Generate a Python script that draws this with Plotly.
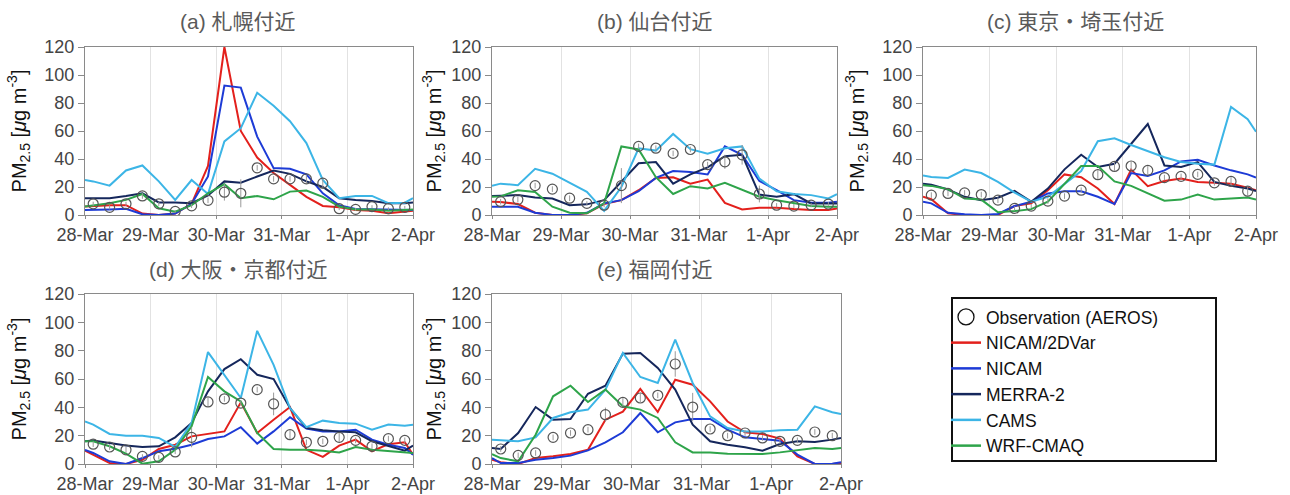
import plotly.graph_objects as go

# ---- time axes (hours since 28-Mar 00 UTC) ----
model_hours = [0, 3, 9, 15, 21, 27, 33, 39, 45, 51, 57, 63, 69, 75, 81, 87, 93, 99, 105, 111, 117, 120]
obs_hours = [3, 9, 15, 21, 27, 33, 39, 45, 51, 57, 63, 69, 75, 81, 87, 93, 99, 105, 111, 117]
tick_hours = [0, 24, 48, 72, 96, 120]
tick_labels = ["28-Mar", "29-Mar", "30-Mar", "31-Mar", "1-Apr", "2-Apr"]

panel_titles = ["(a) 札幌付近", "(b) 仙台付近", "(c) 東京・埼玉付近", "(d) 大阪・京都付近", "(e) 福岡付近"]

series_names = ["NICAM/2DVar", "NICAM", "MERRA-2", "CAMS", "WRF-CMAQ"]
series_colors = ["#e3201c", "#1d3bd6", "#15275c", "#3cb5e6", "#2ea44a"]

# ---- (a) Sapporo ----
obs_a = [8, 5.5, 8, 13.6, 8, 2.6, 6.5, 10.5, 16.3, 15.5, 33.7, 25.8, 25.8, 25.8, 22.7, 4.5, 4, 6, 4.5, 5.5]
err_a = [1.5, 1.5, 1.5, 2, 1.5, 1, 1.5, 2, 6, 10, 2, 2, 2, 3, 4, 1, 1, 1, 1, 1]
nicam2dvar_a = [6, 6.5, 7, 7, 1, 0, 1, 8, 35, 120, 60, 41, 30, 21.5, 13, 6.5, 5.5, 3.6, 3, 1.2, 2.4, 3]
nicam_a = [3.6, 3.6, 4, 4.5, 0.5, 0, 1, 8, 27.5, 92.5, 91, 56, 33.5, 33, 29, 15.5, 7, 4.3, 4, 4, 3.6, 3.6]
merra2_a = [12, 12, 12, 13.6, 15.5, 9, 9, 8.4, 14, 24, 23, 27.5, 31.8, 29.4, 24, 20, 12, 10.8, 10, 8.4, 8.4, 9]
cams_a = [25, 24, 21, 31.8, 35.4, 24, 10.8, 25, 15, 52.6, 62, 87.3, 78, 67, 51.4, 25, 12, 13.6, 13.6, 8.4, 8.8, 12]
wrf_a = [6, 6.7, 8.4, 10.8, 15, 4.8, 2.4, 7, 15.5, 22, 12, 13.6, 11.2, 16.7, 17.5, 13, 6, 4, 4, 3, 3.6, 4]

# ---- (b) Sendai ----
obs_b = [9.5, 11, 21, 18.5, 12, 8.3, 7, 21, 49, 47.7, 44, 46.8, 36, 38, 43, 15, 7, 6.4, 7, 7.8]
err_b = [2, 2, 2, 2, 2, 1.5, 1.5, 12.5, 2, 2, 2, 2, 2, 5, 7, 6, 1.5, 1.5, 1.5, 1.5]
nicam2dvar_b = [9.5, 9.3, 7.8, 1.6, 0, 0, 1.2, 7.8, 10.6, 17.7, 26.5, 27, 22.4, 25.3, 8.7, 4, 5.2, 5.2, 4.2, 3.5, 3.5, 4.7]
nicam_b = [5.9, 5.9, 5.9, 1.6, 0, 0, 1.6, 8.3, 10.6, 17, 26.5, 31.4, 30.7, 29, 49, 43, 24.3, 17.7, 10.6, 8.7, 8.7, 9.5]
merra2_b = [13.5, 13.7, 14.2, 12.5, 11.8, 7, 7.6, 10.6, 24, 37, 37.8, 22.4, 29, 34, 42, 43, 14.6, 13, 14.9, 8.3, 8.3, 8.3]
cams_b = [20.8, 22.4, 21.3, 33, 29.5, 23, 16.5, 3, 20, 47.7, 46, 57.9, 47, 43.7, 47.7, 49, 26, 17, 15, 14.2, 11.8, 14.9]
wrf_b = [13, 13.3, 17.7, 16.5, 5.9, 1.6, 1.2, 8.3, 49, 46.8, 27, 15, 20.6, 18.9, 23, 18.2, 13, 10.6, 8.3, 6.4, 5.9, 5.9]

# ---- (c) Tokyo / Saitama ----
obs_c = [14.2, 15.4, 15.8, 14.6, 10.6, 4.7, 6.4, 9.9, 13.5, 17.7, 28.8, 34.7, 35, 31.9, 26.7, 27.6, 29, 23, 24, 17]
err_c = [2, 2, 2, 2, 2, 1.5, 1.5, 2, 2, 2, 3, 3, 3, 3, 2, 2, 2, 2, 3, 3]
nicam2dvar_c = [13, 11.3, 1.2, 0, 0, 0, 6.4, 8.3, 17.7, 29, 27, 18.9, 7.8, 32.4, 20.6, 24.3, 26, 23.6, 23, 22.4, 19.4, 17.7]
nicam_c = [9.5, 8.3, 1.6, 0.5, 0, 0.7, 6.4, 9.5, 15.4, 17, 17, 13, 7.8, 30, 27.9, 31.9, 38.3, 39.5, 35.4, 31.9, 29, 26.7]
merra2_c = [22.4, 21.7, 18.2, 13, 10.6, 12.3, 17.2, 9.5, 18.9, 32.6, 43, 34.3, 36.6, 50.8, 65, 35.4, 34.3, 37.8, 23.6, 20.8, 18.9, 17.2]
cams_c = [28.3, 27.2, 26.5, 32.4, 30, 23.6, 16, 9.5, 13, 22.4, 31.4, 52.7, 54.8, 50, 45.4, 41.3, 37.8, 36.6, 36, 77.2, 68.5, 59.5]
wrf_c = [21.3, 20.8, 18.4, 11.8, 11, 1.9, 2.8, 4.2, 9.5, 22.4, 35, 35, 24, 20.8, 15.4, 10.2, 11, 14.6, 11, 11.8, 12.5, 11]

# ---- (d) Osaka / Kyoto ----
obs_d = [14, 12, 10, 5.4, 4.7, 8.5, 18.8, 43.8, 46, 43, 52.5, 42.4, 20.7, 15.3, 16, 18.8, 16.7, 12.5, 17.9, 16.7]
err_d = [2, 2, 2, 1.5, 1.5, 1.5, 7, 3, 2, 2, 2, 8, 3, 2, 2, 3, 2, 2, 2, 2]
nicam2dvar_d = [9.4, 6.6, 0.7, 0, 3, 10.6, 13.6, 19.5, 21.2, 23, 43.5, 21.9, 31.3, 40.2, 10, 5, 13, 17.2, 9, 14, 15.3, 6.6]
nicam_d = [10, 7.8, 1.9, 0, 4.2, 9, 10.8, 13.6, 17.6, 19.5, 26, 14.4, 23, 33, 25, 23, 23, 24.2, 17.2, 13.6, 11.3, 6.6]
merra2_d = [16, 16.5, 14.8, 13, 12, 12.5, 18.8, 29, 51.3, 67, 74, 63, 60, 39.5, 25.4, 23.8, 23, 22.4, 16, 12.5, 9.4, 13]
cams_d = [30, 27.8, 21.2, 20, 20, 18.4, 12, 29, 79, 63, 46.6, 94, 70, 39.5, 26, 30.6, 29, 28.5, 24.2, 27.8, 27, 27.8]
wrf_d = [16, 16, 12.5, 7.3, 0.2, 1.9, 10, 26.6, 61.4, 51.3, 44.2, 21.9, 10.6, 10, 10, 9.4, 8.2, 12, 10, 9, 8.2, 7.8]

# ---- (e) Fukuoka ----
obs_e = [10.6, 6.1, 7.8, 18.8, 21.9, 24.2, 34.8, 43.5, 46.6, 48.5, 70.6, 40.2, 24.7, 20, 21.9, 18.4, 16, 16.7, 22.6, 20]
err_e = [2, 2, 2, 2, 2, 2, 5, 3, 3, 2, 9, 10, 2, 2, 2, 2, 2, 2, 2, 2]
nicam2dvar_e = [3, 1.2, 0, 4.2, 5.4, 7, 10, 31.3, 37, 53, 36.7, 59.5, 56, 44.2, 30, 22.4, 21.2, 17.9, 5.4, 0, 0, 0.7]
nicam_e = [4.2, 0.7, 0.7, 3, 4.2, 5.9, 9.6, 15.3, 22.4, 36, 22.4, 29.4, 31.8, 31.8, 24.2, 18.8, 17.6, 16.5, 6.6, 0, 0.2, 1.2]
merra2_e = [11.3, 10.6, 21.9, 40.2, 31.3, 31.8, 49.6, 55.3, 77.9, 78.4, 67.8, 52.5, 27.8, 16, 13.6, 11.8, 9.4, 14.1, 16, 15.5, 17.2, 18.4]
cams_e = [17.2, 16.7, 16, 18.8, 32.5, 36.5, 38.4, 52.5, 78.4, 61.4, 57.2, 87.8, 57.2, 33.6, 25.4, 23, 23, 23.8, 24.2, 40.7, 36.5, 35.3]
wrf_e = [7, 4.2, 1.9, 20.7, 47.8, 55.3, 43.8, 52.5, 40.7, 38.4, 32.5, 15.3, 8.2, 8.2, 7.3, 7, 7, 8.2, 10, 11.3, 10.6, 11.3]

panels = [
    (obs_a, err_a, [nicam2dvar_a, nicam_a, merra2_a, cams_a, wrf_a]),
    (obs_b, err_b, [nicam2dvar_b, nicam_b, merra2_b, cams_b, wrf_b]),
    (obs_c, err_c, [nicam2dvar_c, nicam_c, merra2_c, cams_c, wrf_c]),
    (obs_d, err_d, [nicam2dvar_d, nicam_d, merra2_d, cams_d, wrf_d]),
    (obs_e, err_e, [nicam2dvar_e, nicam_e, merra2_e, cams_e, wrf_e]),
]

W, H = 1290, 495
# plot-area boxes in pixels: (left, right, top, bottom)
boxes = [(85, 413, 47, 215), (492, 837, 47, 215), (923, 1256, 47, 215),
         (85, 413, 294, 464), (492, 841, 294, 464)]
title_x = [238, 655, 1075, 238, 655]
title_y = [22, 22, 22, 269, 269]
ytitle_standoff = [12, 4, 12, 12, 4]
legend_box = (952, 1216, 298, 461)

FONT = "Liberation Sans, Arial, Helvetica, sans-serif"
CJK = "Liberation Sans, Noto Sans CJK JP, sans-serif"

fig = go.Figure()
layout = {}
annotations = []
for i, (obs, err, models) in enumerate(panels):
    n = i + 1
    xa = "x" if n == 1 else f"x{n}"
    ya = "y" if n == 1 else f"y{n}"
    for name, color, vals in zip(series_names, series_colors, models):
        fig.add_trace(go.Scatter(x=model_hours, y=vals, mode="lines", name=name,
                                 line=dict(color=color, width=2),
                                 xaxis=xa, yaxis=ya, showlegend=False, hoverinfo="skip"))
    fig.add_trace(go.Scatter(x=obs_hours, y=obs, mode="markers", name="Observation (AEROS)",
                             marker=dict(symbol="circle-open", size=10, color="#555555",
                                         line=dict(width=1.2, color="#555555")),
                             error_y=dict(type="data", array=err, color="#999999", thickness=1, width=0),
                             xaxis=xa, yaxis=ya, showlegend=False))
    l, r, t, b = boxes[i]
    common_axis = dict(showline=True, linecolor="#8a8a8a", linewidth=1, mirror=True,
                       ticks="outside", tickcolor="#8a8a8a", automargin=False,
                       tickfont=dict(family=FONT, size=18, color="#444444"), zeroline=False)
    layout[f"xaxis{n if n > 1 else ''}"] = dict(
        domain=[l / W, r / W], anchor=ya, range=[0, 120], ticklen=3,
        tickmode="array", tickvals=tick_hours, ticktext=tick_labels,
        showgrid=True, gridcolor="#e2e2e2", gridwidth=1, **common_axis)
    layout[f"yaxis{n if n > 1 else ''}"] = dict(
        domain=[1 - b / H, 1 - t / H], anchor=xa, range=[0, 120], ticklen=6,
        tickmode="array", tickvals=[0, 20, 40, 60, 80, 100, 120],
        showgrid=False,
        title=dict(text="PM<sub>2.5</sub> [<i>μ</i>g m<sup>-3</sup>]",
                   font=dict(family=FONT, size=20, color="#111111"), standoff=ytitle_standoff[i]),
        **common_axis)
    annotations.append(dict(text=panel_titles[i], x=title_x[i] / W, y=1 - title_y[i] / H,
                            xref="paper", yref="paper", showarrow=False,
                            xanchor="center", yanchor="middle",
                            font=dict(family=CJK, size=21, color="#5a5a5a")))

# legend entries (drawn once)
fig.add_trace(go.Scatter(x=[None], y=[None], mode="markers", name="Observation (AEROS)",
                         marker=dict(symbol="circle-open", size=16, color="#111111",
                                     line=dict(width=1.3, color="#111111")),
                         legendrank=1))
for k, (name, color) in enumerate(zip(series_names, series_colors)):
    fig.add_trace(go.Scatter(x=[None], y=[None], mode="lines", name=name,
                             line=dict(color=color, width=2.5), legendrank=k + 2))

lx0, lx1, ly0, ly1 = legend_box
fig.update_layout(
    width=W, height=H, margin=dict(l=0, r=0, t=0, b=0, autoexpand=False),
    paper_bgcolor="white", plot_bgcolor="white",
    annotations=annotations,
    shapes=[dict(type="rect", xref="paper", yref="paper",
                 x0=lx0 / W, x1=lx1 / W, y0=1 - ly1 / H, y1=1 - ly0 / H,
                 line=dict(color="#111111", width=2), fillcolor="rgba(0,0,0,0)", layer="above")],
    showlegend=True,
    legend=dict(x=(lx0 - 6) / W, y=1 - (ly0 + 1) / H, xanchor="left", yanchor="top",
                borderwidth=0, bgcolor="rgba(0,0,0,0)",
                font=dict(family=FONT, size=17.5, color="#111111"),
                tracegroupgap=0, itemwidth=30),
    **layout,
)

fig.write_html("out.html")
